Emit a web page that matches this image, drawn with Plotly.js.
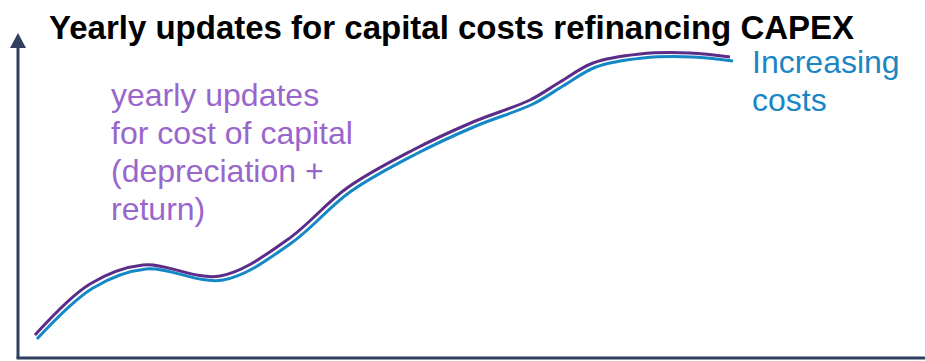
<!DOCTYPE html>
<html>
<head>
<meta charset="utf-8">
<script src="https://cdn.plot.ly/plotly-3.0.1.min.js"></script>
<style>html,body{margin:0;padding:0;background:#fff;}#chart{width:925px;height:361px;}</style>
</head>
<body>
<div id="chart"></div>
<script>
// Time position (horizontal) and cost level (vertical)
const timeCapital = [35, 90, 143, 220, 287, 347, 413, 473, 530, 560, 593, 640, 690, 730];
const costCapital = [26, 77, 96, 85, 121, 173, 211, 239, 261, 279, 298, 307, 308, 304];
const timeIncreasing = [37, 93, 146, 223, 290, 350, 416, 476, 533, 563, 596, 643, 693, 733];
const costIncreasing = [22, 73, 92, 81, 117, 169, 207, 235, 257, 275, 294, 303, 304, 300];

const titleText = "Yearly updates for capital costs refinancing CAPEX";
const capitalLines = ["yearly updates", "for cost of capital", "(depreciation +", "return)"];
const increasingLines = ["Increasing", "costs"];

const FONT = '"Liberation Sans", Arial, sans-serif';
const AXIS = '#2E3F60';

const traces = [
  {x: timeIncreasing, y: costIncreasing, mode: 'lines', line: {color: '#1488C6', width: 3, shape: 'spline', smoothing: 1}, hoverinfo: 'skip'},
  {x: timeCapital, y: costCapital, mode: 'lines', line: {color: '#5B2C88', width: 3, shape: 'spline', smoothing: 1}, hoverinfo: 'skip'}
];

const capitalCenters = [95, 133, 171, 209];
const increasingCenters = [62, 100];

const annotations = [];
capitalLines.forEach((t, i) => annotations.push({
  xref: 'x', yref: 'y', x: 109, y: 361 - capitalCenters[i], xanchor: 'left', yanchor: 'middle',
  showarrow: false, text: t, font: {family: FONT, size: 32, color: '#9966CC'}
}));
increasingLines.forEach((t, i) => annotations.push({
  xref: 'x', yref: 'y', x: 750, y: 361 - increasingCenters[i], xanchor: 'left', yanchor: 'middle',
  showarrow: false, text: t, font: {family: FONT, size: 32, color: '#1A86C4'}
}));

const layout = {
  width: 925, height: 361,
  margin: {l: 0, r: 0, t: 0, b: 0},
  paper_bgcolor: '#fff', plot_bgcolor: '#fff',
  showlegend: false,
  xaxis: {range: [0, 925], visible: false, fixedrange: true},
  yaxis: {range: [0, 361], visible: false, fixedrange: true},
  title: {
    text: '<b>' + titleText + '</b>',
    font: {family: FONT, size: 33, color: '#000'},
    x: 49 / 925, xanchor: 'left', xref: 'paper',
    y: 1 - 27 / 361, yanchor: 'middle', yref: 'container'
  },
  shapes: [
    {type: 'line', xref: 'x', yref: 'y', x0: 18, x1: 18, y0: 3, y1: 315, line: {color: AXIS, width: 3}},
    {type: 'path', xref: 'x', yref: 'y', path: 'M 10 313 L 26 313 L 18 328 Z', fillcolor: AXIS, line: {color: AXIS, width: 0}},
    {type: 'line', xref: 'x', yref: 'y', x0: 16.5, x1: 925, y0: 3, y1: 3, line: {color: AXIS, width: 3}}
  ],
  annotations: annotations
};

Plotly.newPlot('chart', traces, layout, {staticPlot: true, displayModeBar: false});
</script>
</body>
</html>
